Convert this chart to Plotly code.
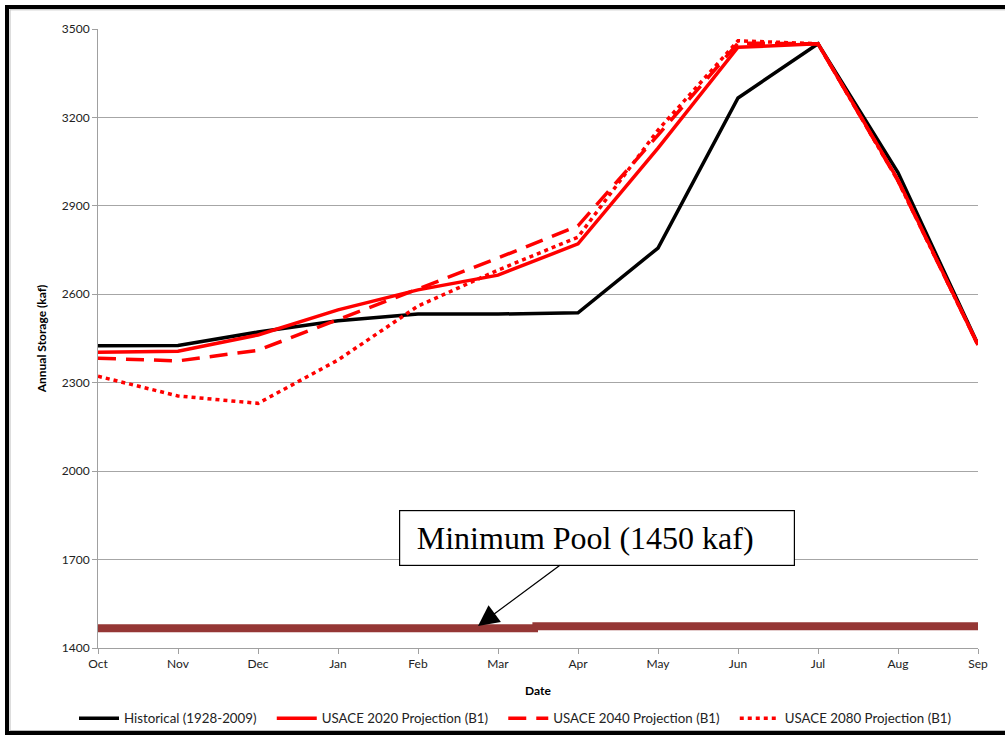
import plotly.graph_objects as go

months = ["Oct", "Nov", "Dec", "Jan", "Feb", "Mar", "Apr", "May", "Jun", "Jul", "Aug", "Sep"]
x_idx = list(range(len(months)))

historical = [2425, 2426, 2472, 2510, 2533, 2533, 2537, 2757, 3266, 3450, 3013, 2430]
usace_2020 = [2403, 2407, 2462, 2547, 2615, 2665, 2771, 3096, 3438, 3450, 2988, 2428]
usace_2040 = [2383, 2374, 2410, 2513, 2618, 2723, 2832, 3140, 3452, 3450, 2985, 2428]
usace_2080 = [2322, 2255, 2230, 2377, 2560, 2682, 2794, 3157, 3460, 3450, 2985, 2428]

series_names = ["Historical (1928-2009)", "USACE 2020 Projection (B1)",
                "USACE 2040 Projection (B1)", "USACE 2080 Projection (B1)"]

# Minimum pool reference line (drawn in two segments as in the original)
pool_left_x = [0, 5.5]
pool_left_y = [1467, 1467]
pool_right_x = [5.43, 11]
pool_right_y = [1474, 1474]

y_ticks = [1400, 1700, 2000, 2300, 2600, 2900, 3200, 3500]

W, H = 1005, 736
L, R, T, B = 98, 27, 29, 88
PW, PH = W - L - R, H - T - B


def px_x(p):
    return (p - L) / PW


def px_y(p):
    return (H - B - p) / PH


sans = "Lato, Open Sans, Liberation Sans, sans-serif"
tick_font = dict(family=sans, size=12, color="#222")
pad = "&nbsp;&nbsp;&nbsp;"

fig = go.Figure()

fig.add_trace(go.Scatter(x=pool_left_x, y=pool_left_y, mode="lines",
                         line=dict(color="#953735", width=8), showlegend=False, hoverinfo="skip"))
fig.add_trace(go.Scatter(x=pool_right_x, y=pool_right_y, mode="lines",
                         line=dict(color="#953735", width=8), showlegend=False, hoverinfo="skip"))

fig.add_trace(go.Scatter(x=x_idx, y=historical, mode="lines", name=series_names[0] + pad,
                         line=dict(color="black", width=3.5)))
fig.add_trace(go.Scatter(x=x_idx, y=usace_2020, mode="lines", name=series_names[1] + pad,
                         line=dict(color="#FF0000", width=3.5)))
fig.add_trace(go.Scatter(x=x_idx, y=usace_2040, mode="lines", name=series_names[2] + pad,
                         line=dict(color="#FF0000", width=3.5, dash="18px,10px")))
fig.add_trace(go.Scatter(x=x_idx, y=usace_2080, mode="lines", name=series_names[3],
                         line=dict(color="#FF0000", width=3.5, dash="4px,4px")))

fig.add_annotation(x=4.75, y=1475, xref="x", yref="y",
                   text="Minimum Pool (1450 kaf)&nbsp;&nbsp;&nbsp;", showarrow=True,
                   ax=119, ay=-88, axref="pixel", ayref="pixel",
                   arrowhead=2, arrowsize=3.2, arrowwidth=1.3, arrowcolor="black",
                   font=dict(family="Liberation Serif, Times New Roman, serif", size=32, color="black"),
                   bordercolor="black", borderwidth=1.2, bgcolor="white",
                   width=392, height=52, borderpad=1)

# outer frame
fig.add_shape(type="rect", xref="paper", yref="paper",
              x0=px_x(7), x1=px_x(1010), y0=px_y(733), y1=px_y(7),
              line=dict(color="black", width=4), fillcolor="rgba(0,0,0,0)", layer="above")
fig.add_shape(type="rect", xref="paper", yref="paper",
              x0=px_x(10), x1=px_x(1010), y0=px_y(730.5), y1=px_y(9.8),
              line=dict(color="#BBBBBB", width=1), fillcolor="rgba(0,0,0,0)", layer="above")

fig.update_layout(
    width=W, height=H,
    margin=dict(l=L, r=R, t=T, b=B, autoexpand=False),
    paper_bgcolor="white", plot_bgcolor="white",
    font=tick_font,
    showlegend=True,
    legend=dict(orientation="h", x=px_x(74), xanchor="left", y=px_y(703), yanchor="top",
                bgcolor="rgba(0,0,0,0)",
                font=dict(family=sans, size=13.3, color="#222"),
                itemwidth=40, tracegroupgap=0),
    xaxis=dict(range=[0, 11], tickmode="array", tickvals=x_idx, ticktext=months,
               showgrid=False, showline=True, linecolor="#A0A0A0", linewidth=1,
               ticks="outside", ticklen=5, tickcolor="#A0A0A0", zeroline=False,
               title=dict(text="<b>Date</b>", font=dict(family=sans, size=12, color="black"), standoff=16),
               tickfont=tick_font),
    yaxis=dict(range=[1400, 3500], tickmode="array", tickvals=y_ticks,
               showgrid=True, gridcolor="#A6A6A6", gridwidth=1,
               showline=True, linecolor="#A0A0A0", linewidth=1,
               ticks="outside", ticklen=5, tickcolor="#A0A0A0", zeroline=False,
               title=dict(text="<b>Annual Storage (kaf)</b>", font=dict(family=sans, size=12, color="black"), standoff=12),
               tickfont=tick_font),
)

fig.write_html("out.html", config={"displayModeBar": False},
               post_script="document.body.style.margin='0px';")
